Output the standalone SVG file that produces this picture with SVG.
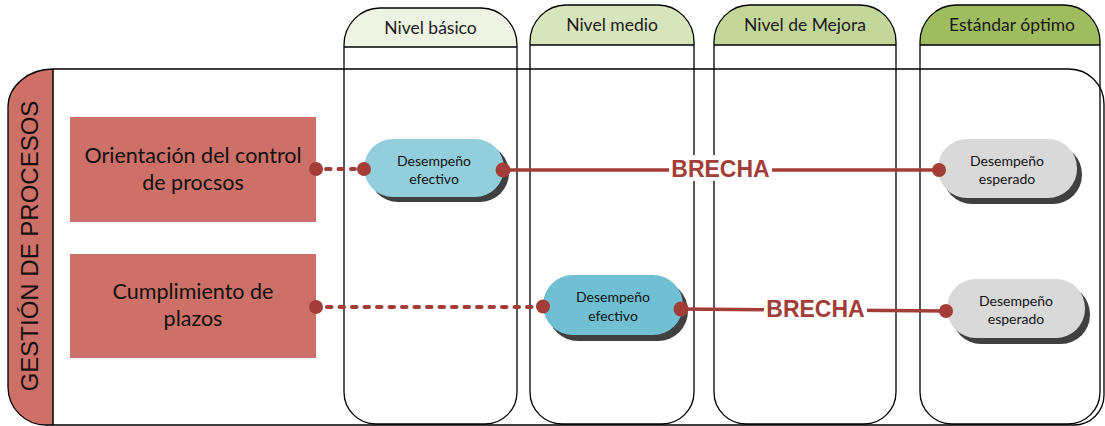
<svg xmlns="http://www.w3.org/2000/svg" width="1105" height="426" viewBox="0 0 1105 426">
<defs>
<style>
.col{fill:none;stroke:#000;stroke-width:1.3}
.hdr{stroke:none}
.htxt{font-family:Lato,"Liberation Sans",sans-serif;font-size:17.5px;fill:#1a1a1a;text-anchor:middle}
.box{fill:#CD7068}
.btxt{font-family:Lato,"Liberation Sans",sans-serif;font-size:21.5px;fill:#111;text-anchor:middle}
.ptxt{font-family:Lato,"Liberation Sans",sans-serif;font-size:14px;fill:#111;text-anchor:middle}
.shadow{fill:#404040}
.solid{stroke:#A33D37;stroke-width:3.5;fill:none}
.dot{stroke:#A33D37;stroke-width:4;fill:none;stroke-dasharray:4.5 8;stroke-linecap:round}
.end{fill:#A33D37}
.brecha{font-family:"Liberation Sans",Arial,sans-serif;font-weight:bold;font-size:23px;fill:#A33D37;text-anchor:middle}
</style>
</defs>
<rect width="1105" height="426" fill="#fff"/>

<g id="container">
<path d="M53,69 V425 H46 A38,38 0 0 1 8,387 V107 A45,38 0 0 1 53,69 Z" fill="#CD7068"/>
<path d="M53,69 H1069 A35,35 0 0 1 1104,104 V395 A30,30 0 0 1 1074,425 H46 A38,38 0 0 1 8,387 V107 A45,38 0 0 1 53,69 Z" fill="none" stroke="#000" stroke-width="1.3"/>
<line x1="53" y1="69" x2="53" y2="425" stroke="#000" stroke-width="1.5"/>
<text transform="translate(37.5,246) rotate(-90)" font-family="'Liberation Sans',Arial,sans-serif" font-size="24" fill="#111" text-anchor="middle">GESTIÓN DE PROCESOS</text>
</g>

<g id="col-basico">
<path class="hdr" fill="#EEF3E4" d="M344,47 V45 A36,37 0 0 1 380,8 H481 A36,37 0 0 1 517,45 V47 Z"/>
<path class="col" d="M344,392 V45 A36,37 0 0 1 380,8 H481 A36,37 0 0 1 517,45 V392 A32,32 0 0 1 485,424 H376 A32,32 0 0 1 344,392 Z"/>
<line class="col" x1="344" y1="47" x2="517" y2="47"/>
<text class="htxt" x="430.5" y="34">Nivel básico</text>
</g>

<g id="col-medio">
<path class="hdr" fill="#D8E4BC" d="M530,45 V42 A36,37 0 0 1 566,5 H658 A36,37 0 0 1 694,42 V45 Z"/>
<path class="col" d="M530,392 V42 A36,37 0 0 1 566,5 H658 A36,37 0 0 1 694,42 V392 A32,32 0 0 1 662,424 H562 A32,32 0 0 1 530,392 Z"/>
<line class="col" x1="530" y1="45" x2="694" y2="45"/>
<text class="htxt" x="612" y="31">Nivel medio</text>
</g>

<g id="col-mejora">
<path class="hdr" fill="#C4D79B" d="M714,45 V42 A36,37 0 0 1 750,5 H860 A36,37 0 0 1 896,42 V45 Z"/>
<path class="col" d="M714,392 V42 A36,37 0 0 1 750,5 H860 A36,37 0 0 1 896,42 V392 A32,32 0 0 1 864,424 H746 A32,32 0 0 1 714,392 Z"/>
<line class="col" x1="714" y1="45" x2="896" y2="45"/>
<text class="htxt" x="805" y="31">Nivel de Mejora</text>
</g>

<g id="col-estandar">
<path class="hdr" fill="#9FBD5F" d="M920,45 V42 A36,37 0 0 1 956,5 H1064 A36,37 0 0 1 1100,42 V45 Z"/>
<path class="col" d="M920,392 V42 A36,37 0 0 1 956,5 H1064 A36,37 0 0 1 1100,42 V392 A32,32 0 0 1 1068,424 H952 A32,32 0 0 1 920,392 Z"/>
<line class="col" x1="920" y1="45" x2="1100" y2="45"/>
<text class="htxt" x="1012" y="31">Estándar óptimo</text>
</g>

<g id="box-orientacion">
<rect class="box" x="70" y="117" width="246" height="105"/>
<text class="btxt" x="193" y="163">Orientación del control</text>
<text class="btxt" x="193" y="190">de procsos</text>
</g>

<g id="box-cumplimiento">
<rect class="box" x="70" y="254" width="246" height="104"/>
<text class="btxt" x="193" y="299">Cumplimiento de</text>
<text class="btxt" x="193" y="326">plazos</text>
</g>

<g id="pill-efectivo-1">
<rect class="shadow" x="369" y="144" width="140" height="58" rx="29"/>
<rect x="364" y="139" width="140" height="58" rx="29" fill="#93CEDD"/>
<text class="ptxt" x="434" y="165.5">Desempeño</text>
<text class="ptxt" x="434" y="184">efectivo</text>
</g>

<g id="pill-esperado-1">
<rect class="shadow" x="943" y="145" width="139" height="59" rx="29"/>
<rect x="938" y="139" width="139" height="59" rx="29" fill="#D9D9D9"/>
<text class="ptxt" x="1007" y="165.5">Desempeño</text>
<text class="ptxt" x="1007" y="184">esperado</text>
</g>

<g id="pill-efectivo-2">
<rect class="shadow" x="548" y="281" width="140" height="60" rx="30"/>
<rect x="543" y="275" width="140" height="60" rx="30" fill="#70BFD3"/>
<text class="ptxt" x="613" y="302">Desempeño</text>
<text class="ptxt" x="613" y="321">efectivo</text>
</g>

<g id="pill-esperado-2">
<rect class="shadow" x="952" y="285" width="138" height="59" rx="29"/>
<rect x="947" y="279" width="138" height="59" rx="29" fill="#D9D9D9"/>
<text class="ptxt" x="1016" y="305.5">Desempeño</text>
<text class="ptxt" x="1016" y="324">esperado</text>
</g>

<g id="connectors">
<line class="dot" x1="326" y1="169" x2="355" y2="169"/>
<circle class="end" cx="316" cy="169" r="7"/>
<circle class="end" cx="364" cy="169" r="7"/>
<line class="solid" x1="503" y1="170" x2="938" y2="170"/>
<circle class="end" cx="503" cy="170" r="7.5"/>
<circle class="end" cx="939" cy="170" r="7"/>
<rect x="669" y="155" width="103" height="26" fill="#fff"/>
<text class="brecha" x="720.5" y="177">BRECHA</text>

<line class="dot" x1="327" y1="307" x2="535" y2="307"/>
<circle class="end" cx="316" cy="307" r="7"/>
<circle class="end" cx="543" cy="306.5" r="7"/>
<line class="solid" x1="681" y1="309" x2="946" y2="311"/>
<circle class="end" cx="681" cy="309" r="7.5"/>
<circle class="end" cx="946" cy="311" r="7"/>
<rect x="764" y="296" width="103" height="25" fill="#fff"/>
<text class="brecha" x="815.5" y="317">BRECHA</text>
</g>
</svg>
